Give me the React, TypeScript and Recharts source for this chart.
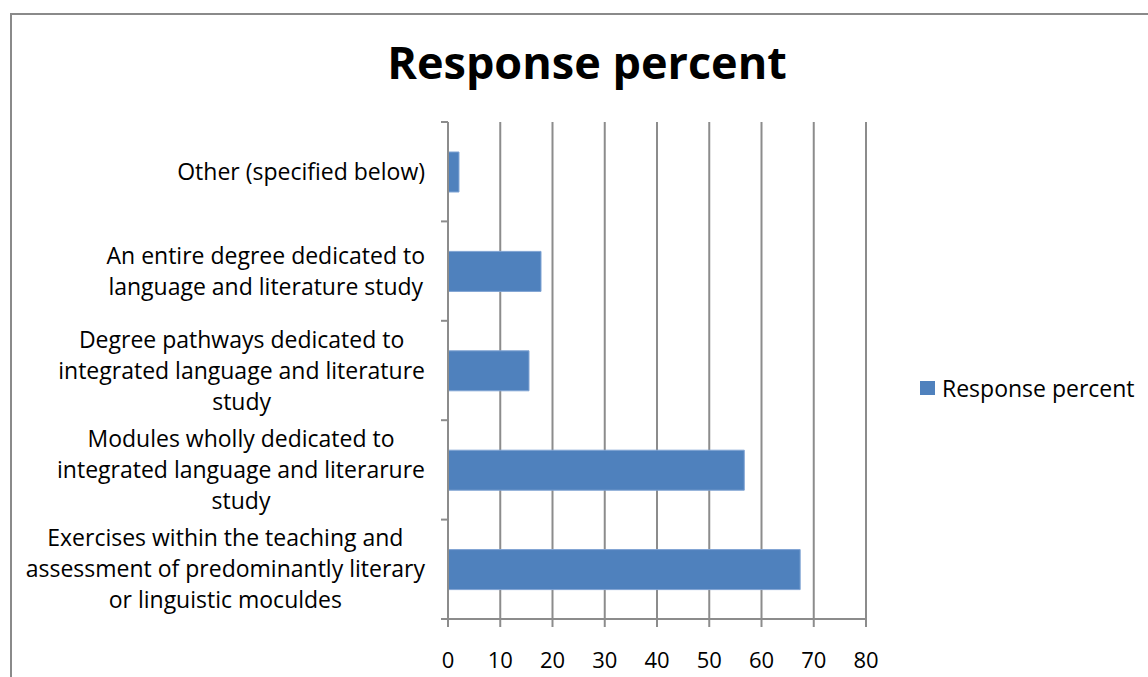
import React from 'react'
import { BarChart, Bar, XAxis, YAxis, CartesianGrid } from 'recharts'

const categories = [
  'Other (specified below)',
  'An entire degree dedicated to\nlanguage and literature study',
  'Degree pathways dedicated to\nintegrated language and literature\nstudy',
  'Modules wholly dedicated to\nintegrated language and literarure\nstudy',
  'Exercises within the teaching and\nassessment of predominantly literary\nor linguistic moculdes',
]
const responsePercent = [2.1, 17.8, 15.5, 56.7, 67.4]
const xTicks = [0, 10, 20, 30, 40, 50, 60, 70, 80]
const seriesName = 'Response percent'

const data = categories.map((c, i) => ({ category: c, value: responsePercent[i] }))

const FONT = '"Open Sans", Lato, sans-serif'
const GRID = '#8c8c8c'
const BAR = '#4f81bd'
const LABEL_SIZE = 23
const LINE_H = 31
const TICK_MARGIN = 16
const TICK_SIZE = 7

let ctx: CanvasRenderingContext2D | null = null
const measure = (s: string, size: number) => {
  if (!ctx) ctx = document.createElement('canvas').getContext('2d')
  if (!ctx) return s.length * size * 0.5
  ctx.font = `${size}px ${FONT}`
  return ctx.measureText(s).width
}

const CategoryTick = (props: any) => {
  const { x, y, payload, index, visibleTicksCount } = props
  const lines = String(payload.value).split('\n')
  const half = payload.offset ?? 0
  const widest = Math.max(...lines.map((l) => measure(l, LABEL_SIZE)))
  const cx = x - widest / 2
  const y0 = y - ((lines.length - 1) * LINE_H) / 2
  const axisX = x + TICK_MARGIN + TICK_SIZE
  return (
    <g>
      <line x1={axisX - TICK_SIZE} x2={axisX} y1={y - half} y2={y - half} stroke={GRID} strokeWidth={2} />
      {index === visibleTicksCount - 1 && (
        <line x1={axisX - TICK_SIZE} x2={axisX} y1={y + half} y2={y + half} stroke={GRID} strokeWidth={2} />
      )}
      <text x={cx} y={y0} textAnchor="middle" fontFamily={FONT} fontSize={LABEL_SIZE} fill="#000">
        {lines.map((l, i) => (
          <tspan key={i} x={cx} y={y0 + i * LINE_H} dy="0.35em">
            {l}
          </tspan>
        ))}
      </text>
    </g>
  )
}

export default function App() {
  return (
    <div style={{ position: 'absolute', left: 0, top: 0, width: 1148, height: 677, overflow: 'hidden', background: '#fff' }}>
      <div
        style={{
          position: 'absolute',
          left: 10,
          top: 13,
          width: 2000,
          height: 2000,
          borderLeft: '2px solid #8a8a8a',
          borderTop: '2px solid #8a8a8a',
        }}
      />
      <div
        style={{
          position: 'absolute',
          left: 0,
          width: 1174,
          top: 31,
          textAlign: 'center',
          fontFamily: FONT,
          fontWeight: 'bold',
          fontSize: 45,
          color: '#000',
        }}
      >
        Response percent
      </div>
      <div style={{ position: 'absolute', left: 0, top: 0 }}>
        <BarChart
          width={1148}
          height={677}
          data={data}
          layout="vertical"
          margin={{ top: 122, right: 282, bottom: 0, left: 0 }}
          barSize={40}
        >
          <CartesianGrid horizontal={false} vertical stroke={GRID} strokeWidth={2} />
          <XAxis
            type="number"
            domain={[0, 80]}
            ticks={xTicks}
            interval={0}
            height={58}
            axisLine={{ stroke: GRID, strokeWidth: 2 }}
            tickLine={{ stroke: GRID, strokeWidth: 2 }}
            tickSize={8}
            tickMargin={25}
            tick={{ fill: '#000', fontSize: 22, fontFamily: FONT }}
          />
          <YAxis
            type="category"
            dataKey="category"
            width={448}
            interval={0}
            axisLine={{ stroke: GRID, strokeWidth: 2 }}
            tickLine={false}
            tickSize={TICK_SIZE}
            tickMargin={TICK_MARGIN}
            tick={<CategoryTick />}
          />
          <Bar dataKey="value" name={seriesName} fill={BAR} stroke="#7fa3d3" strokeWidth={1} isAnimationActive={false} />
        </BarChart>
      </div>
      <div
        style={{
          position: 'absolute',
          left: 920,
          top: 372,
          display: 'flex',
          alignItems: 'center',
          fontFamily: FONT,
          fontSize: 23,
          color: '#000',
        }}
      >
        <span style={{ width: 15, height: 14, background: BAR, marginRight: 7, display: 'inline-block' }} />
        <span>{seriesName}</span>
      </div>
    </div>
  )
}
